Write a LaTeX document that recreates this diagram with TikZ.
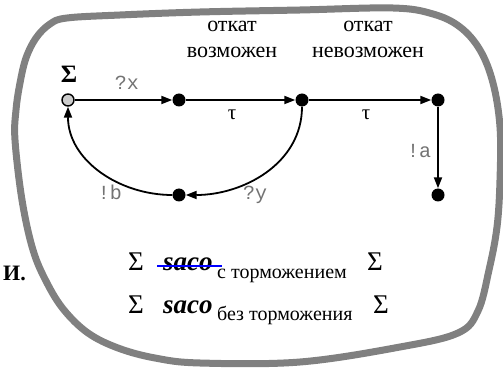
\documentclass[tikz,border=0pt]{standalone}
\usepackage{fontspec}
\setmainfont{Liberation Serif}
\setmonofont{Liberation Mono}
\usetikzlibrary{arrows.meta,positioning}

\begin{document}
\begin{tikzpicture}[
    x=1pt, y=-1pt,
    state/.style={
        circle,
        fill=black,
        inner sep=0pt,
        minimum size=13pt
    },
    initstate/.style={
        state,
        draw=black,
        fill=black!20,
        line width=1.4pt,
        minimum size=12pt
    },
    arrow/.style={
        -{Triangle[length=11pt,width=8pt]},
        line width=1.8pt
    },
    act/.style={font=\fontsize{20}{20}\selectfont\ttfamily, text=black!55, inner sep=0pt, anchor=base},
    desc/.style={font=\fontsize{22}{26}\selectfont, align=center, inner sep=0pt, anchor=base},
    tau/.style={font=\fontsize{21}{21}\selectfont, inner sep=0pt, anchor=base},
    formula/.style={font=\fontsize{27}{27}\selectfont, inner sep=0pt, anchor=base west},
    subtext/.style={font=\fontsize{20}{20}\selectfont, inner sep=0pt, anchor=base west}
]
    \useasboundingbox (0,0) rectangle (503,371);

    % outline
    \draw[draw=black!50, line width=7pt] plot[smooth cycle, tension=0.6] coordinates {
        (67,18) (50,24) (36,38) (26,58) (20,83) (16,110) (15,140) (22,200)
        (33,250) (47,283) (64,310) (88,333) (118,348) (155,358) (200,363)
        (300,362) (400,347) (458,333) (478,311) (489,270) (497,227) (500,180)
        (500,127) (493,83) (480,50) (460,27) (433,14) (393,8) (300,10) (200,12) (120,15)};

    % states
    \node[initstate] (init) at (68,100) {};
    \node[state] (recv) at (179,100) {};
    \node[state] (rbok) at (302,100) {};
    \node[state] (rbno) at (438,100) {};
    \node[state] (done) at (438,195) {};
    \node[state] (back) at (179,195) {};

    \node[font=\fontsize{25}{25}\selectfont\bfseries, inner sep=0pt, anchor=base] (sig) at (69,83) {Σ};
    \node[desc] (okdesc) at (232,58) {откат\\возможен};
    \node[desc] (nodesc) at (368,58) {откат\\невозможен};

    \draw[arrow] (init) -- (recv);
    \draw[arrow] (recv) -- (rbok);
    \draw[arrow] (rbok) -- (rbno);
    \draw[arrow] (rbno) -- (done);
    \draw[arrow] (rbok) to[out=-90, in=0] (back);
    \draw[arrow] (back) to[out=180, in=-90] (init);

    \node[act] (lx) at (127,90) {?x};
    \node[tau] (t1) at (232,120) {τ};
    \node[tau] (t2) at (366,120) {τ};
    \node[act] (la) at (419,158) {!a};
    \node[act] (lb) at (110,200) {!b};
    \node[act] (ly) at (255,200) {?y};

    % formulas
    \node[font=\fontsize{22}{22}\selectfont\bfseries, inner sep=0pt, anchor=base west] (ii) at (3,280) {И.};
    \node[formula] (sa1) at (128,271) {Σ};
    \node[formula, font=\fontsize{27}{27}\selectfont\bfseries\itshape] (saco1) at (163,271) {saco};
    \node[subtext] (sub1) at (217,278) {с торможением};
    \node[formula] (sb1) at (367,270) {Σ};
    \draw[blue, line width=2.5pt] ([xshift=-6pt, yshift=5pt]saco1.base west) -- ([xshift=9pt, yshift=5pt]saco1.base east);

    \node[formula] (sa2) at (128,313) {Σ};
    \node[formula, font=\fontsize{27}{27}\selectfont\bfseries\itshape] (saco2) at (163,313) {saco};
    \node[subtext] (sub2) at (217,320) {без торможения};
    \node[formula] (sb2) at (373,313) {Σ};
\end{tikzpicture}
\end{document}
